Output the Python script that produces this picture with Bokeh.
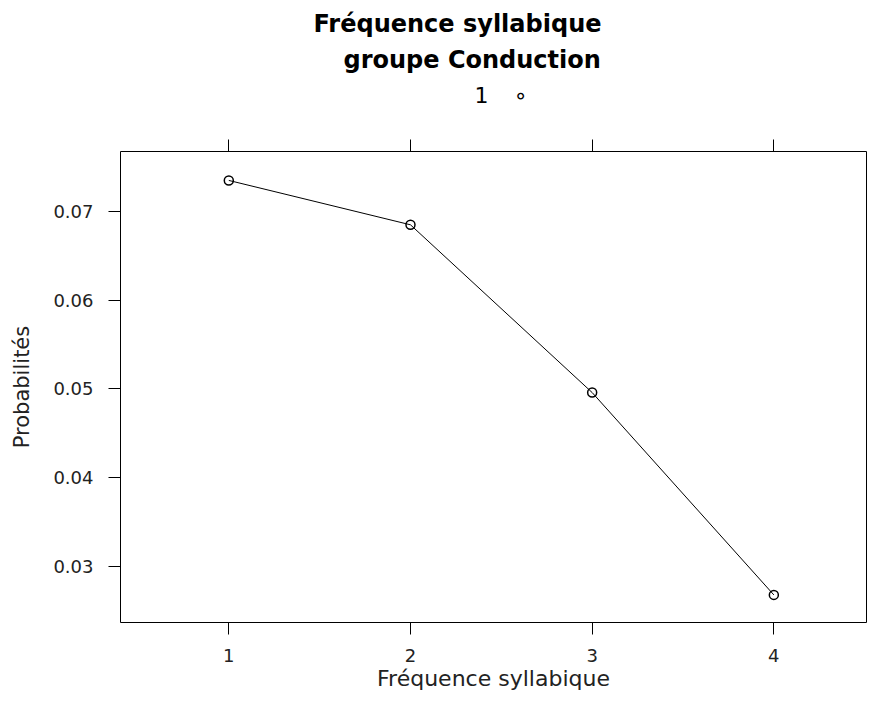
from bokeh.plotting import figure
from bokeh.models import FixedTicker, LinearAxis, Title, CustomJSTickFormatter
from bokeh.embed import file_html
from bokeh.resources import INLINE

# ---- data ----
freq = [1, 2, 3, 4]
prob = [0.0735, 0.0685, 0.0496, 0.0268]
x_ticks = [1, 2, 3, 4]
y_ticks = [0.03, 0.04, 0.05, 0.06, 0.07]
y_tick_labels = ["0.03", "0.04", "0.05", "0.06", "0.07"]
title_lines = ["Fréquence syllabique", "groupe Conduction"]
legend_text = "1\u00a0\u00a0\u00a0\u2009\u2218"
x_label = "Fréquence syllabique"
y_label = "Probabilités"

FONT = "DejaVu Sans"
W, H = 869, 697

p = figure(width=W, height=H, x_range=(0.4039, 4.510), y_range=(0.02369, 0.07676),
           output_backend="svg", toolbar_location=None, title=None,
           min_border_left=120, min_border_right=3,
           min_border_top=151, min_border_bottom=75)
p.xgrid.visible = False
p.ygrid.visible = False
p.outline_line_color = "black"
p.outline_line_width = 1
p.background_fill_color = "white"
p.border_fill_color = "white"

for ax in p.xaxis:
    ax.ticker = FixedTicker(ticks=x_ticks)
for ax in p.yaxis:
    ax.ticker = FixedTicker(ticks=y_ticks)
    ax.major_label_overrides = {t: l for t, l in zip(y_ticks, y_tick_labels)}

for ax in list(p.xaxis) + list(p.yaxis):
    ax.axis_line_color = None
    ax.minor_tick_line_color = None
    ax.major_tick_in = 0
    ax.major_tick_out = 12
    ax.major_tick_line_color = "black"
    ax.major_tick_line_width = 1
    ax.major_label_text_font = FONT
    ax.major_label_text_font_size = "18px"
    ax.major_label_text_color = "#222222"
    ax.axis_label_text_font = FONT
    ax.axis_label_text_font_style = "normal"
    ax.axis_label_text_color = "#222222"
p.xaxis.major_label_standoff = 14
p.yaxis.major_label_standoff = 15
p.xaxis.axis_label = x_label
p.xaxis.axis_label_text_font_size = "22px"
p.xaxis.axis_label_standoff = 1
p.yaxis.axis_label = y_label
p.yaxis.axis_label_text_font_size = "21px"
p.yaxis.axis_label_standoff = 16

# top axis: ticks only; a blank axis label reserves the gap below the legend line
top = LinearAxis(ticker=FixedTicker(ticks=x_ticks),
                 formatter=CustomJSTickFormatter(code="return ''"))
top.axis_line_color = None
top.minor_tick_line_color = None
top.major_tick_in = 0
top.major_tick_out = 12
top.major_tick_line_color = "black"
top.major_label_standoff = 0
top.axis_label = "\u00a0"
top.axis_label_text_font = FONT
top.axis_label_text_font_size = "10px"
top.axis_label_standoff = 18
p.add_layout(top, "above")

p.line(freq, prob, line_color="black", line_width=1)
p.scatter(freq, prob, marker="circle", size=9, fill_color=None,
          line_color="black", line_width=1.5)

# legend line, then title lines (each added further from the frame)
p.add_layout(Title(text=legend_text, align="left", offset=354, standoff=0,
                   text_font=FONT, text_font_size="22px", text_font_style="normal",
                   text_color="black"), "above")
p.add_layout(Title(text=title_lines[1], align="left", offset=223, standoff=13,
                   text_font=FONT, text_font_size="24px", text_font_style="bold",
                   text_color="black"), "above")
p.add_layout(Title(text=title_lines[0], align="left", offset=193, standoff=0,
                   text_font=FONT, text_font_size="24px", text_font_style="bold",
                   text_color="black"), "above")

open("out.html", "w").write(file_html(p, INLINE))
